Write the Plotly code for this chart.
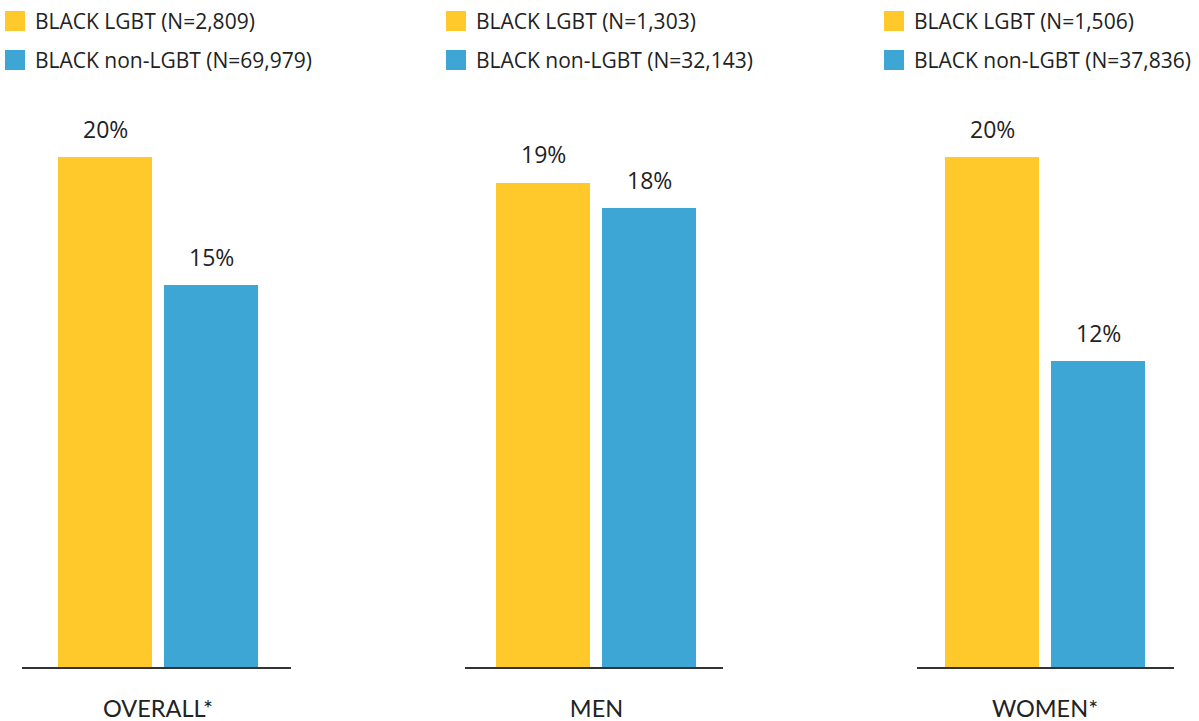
import plotly.graph_objects as go

# ---- data ----
groups = ["OVERALL*", "MEN", "WOMEN*"]
series = ["BLACK LGBT", "BLACK non-LGBT"]
lgbt_pct = [20, 19, 20]
nonlgbt_pct = [15, 18, 12]
lgbt_n = ["2,809", "1,303", "1,506"]
nonlgbt_n = ["69,979", "32,143", "37,836"]

# ---- style / layout constants ----
W, H = 1199, 721
COLORS = ["#FFC92C", "#3DA6D5"]
TEXT = "#222222"
BAR_OFFSETS = [-0.53, 0.53]    # bar centres within a group (1 unit = 100 px)
BAR_WIDTH = 0.94
UNIT_PX = 100.0
PANEL_DOM = [(21.7, 291.0), (465.3, 722.7), (916.7, 1173.7)]   # px
PANEL_CENTER = [158.0, 596.5, 1045.0]                            # px
LEGEND_X = [5, 446, 884]                                         # px
LEGEND_ROWS = [21, 60]                                           # px (centres)
BASE_PX, TOP_PX, PX_PER_PCT = 667.0, 80.0, 25.5


def fx(p):
    return p / W


def fy(p):
    return 1 - p / H


fig = go.Figure()
layout = dict(
    template="none",
    width=W, height=H, margin=dict(l=0, r=0, t=0, b=0, pad=0),
    paper_bgcolor="white", plot_bgcolor="white",
    showlegend=False, bargap=0, barmode="overlay",
    yaxis=dict(domain=[fy(BASE_PX), fy(TOP_PX)],
               range=[0, (BASE_PX - TOP_PX) / PX_PER_PCT],
               visible=False, fixedrange=True, automargin=False),
)
annotations = []
shapes = []
values = [lgbt_pct, nonlgbt_pct]
ns = [lgbt_n, nonlgbt_n]

for i, g in enumerate(groups):
    xa = "x" if i == 0 else f"x{i+1}"
    key = "xaxis" if i == 0 else f"xaxis{i+1}"
    l, r = PANEL_DOM[i]
    c = PANEL_CENTER[i]
    layout[key] = dict(
        domain=[fx(l), fx(r)],
        range=[-(c - l) / UNIT_PX, (r - c) / UNIT_PX],
        anchor="y", showline=True, linecolor="#333333", linewidth=2,
        showgrid=False, zeroline=False, ticks="", automargin=False,
        tickvals=[0], ticktext=[g], ticklabelstandoff=20,
        tickfont=dict(family="Lato", size=23.5, color=TEXT),
        fixedrange=True,
    )
    for s in range(2):
        v = values[s][i]
        fig.add_trace(go.Bar(
            x=[BAR_OFFSETS[s]], y=[v], width=BAR_WIDTH,
            marker=dict(color=COLORS[s], line=dict(width=0)),
            name=series[s], xaxis=xa, yaxis="y", hoverinfo="skip",
        ))
        annotations.append(dict(
            x=BAR_OFFSETS[s], y=v, xref=xa, yref="y", text=f"{v}%",
            showarrow=False, yanchor="bottom", xanchor="center", yshift=10,
            font=dict(family="Open Sans", size=23, color=TEXT),
        ))
        # legend swatch + label
        lx = LEGEND_X[i]
        cy = LEGEND_ROWS[s]
        shapes.append(dict(
            type="rect", xref="paper", yref="paper",
            x0=fx(lx), x1=fx(lx + 20), y0=fy(cy - 10), y1=fy(cy + 10),
            fillcolor=COLORS[s], line=dict(width=0),
        ))
        annotations.append(dict(
            x=fx(lx + 28), y=fy(cy), xref="paper", yref="paper",
            text=f"{series[s]} (N={ns[s][i]})", showarrow=False,
            xanchor="left", yanchor="middle",
            font=dict(family="Open Sans", size=21, color=TEXT),
        ))

layout["annotations"] = annotations
layout["shapes"] = shapes
fig.update_layout(**layout)

fig.write_html("out.html", config={"displayModeBar": False},
               post_script="document.body.style.margin='0';")
